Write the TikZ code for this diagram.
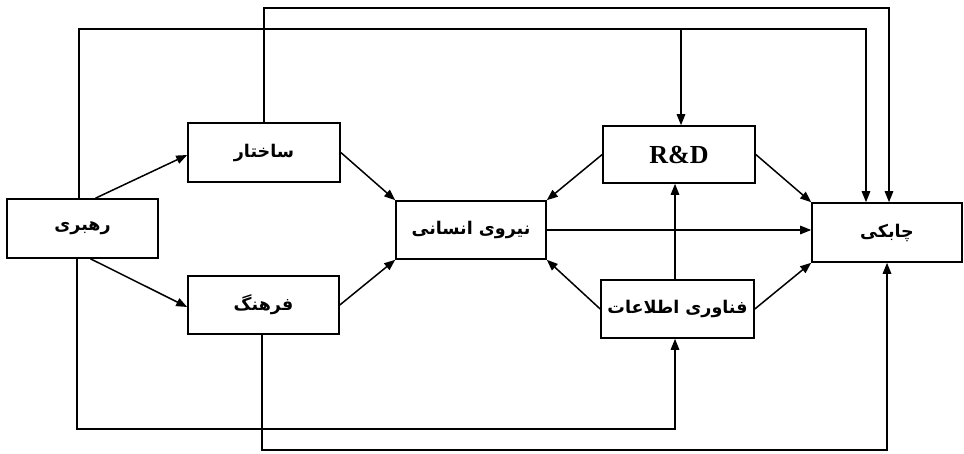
\documentclass[tikz,border=0pt]{standalone}
\usepackage{fontspec}
\setmainfont{Liberation Serif}
\newfontfamily\arabicfont[Script=Arabic]{DejaVu Sans}
\TeXXeTstate=1
\usetikzlibrary{arrows.meta}
\tikzset{
  box/.style={draw, line width=1.6pt, inner sep=0pt, align=center, font=\fontsize{17.5}{21}\selectfont\bfseries},
  conn/.style={line width=1.5pt},
  arr/.style={conn, -{Triangle[length=11pt,width=8.5pt]}}
}
\newcommand{\fa}[1]{{\arabicfont\bfseries\beginR #1\endR}}
\begin{document}
\begin{tikzpicture}[x=1pt,y=-1pt]
\useasboundingbox (0,0) rectangle (964,454);
\node[box, minimum width=151pt, minimum height=59pt] (rahbari) at (82.5,228.5) {\fa{رهبری}};
\node[box, minimum width=152pt, minimum height=59pt] (sakhtar) at (264,152.5) {\fa{ساختار}};
\node[box, minimum width=151pt, minimum height=58pt] (farhang) at (263.5,305) {\fa{فرهنگ}};
\node[box, minimum width=150pt, minimum height=58pt] (niru) at (471,230) {\fa{نیروی انسانی}};
\node[box, minimum width=152pt, minimum height=57pt, font=\fontsize{26}{28}\selectfont\bfseries] (rd) at (679,154.5) {R\&D};
\node[box, minimum width=153pt, minimum height=58pt] (fanavari) at (677.5,309) {\fa{فناوری اطلاعات}};
\node[box, minimum width=150pt, minimum height=59pt] (chaboki) at (887,232.5) {\fa{چابکی}};
\coordinate (t1) at (0,8);
\coordinate (t2) at (0,29);
\coordinate (b1) at (0,429);
\coordinate (b2) at (0,450);
% top feedback lines
\draw[arr] (sakhtar.north) |- ([xshift=2pt]chaboki.north |- t1) -- ([xshift=2pt]chaboki.north);
\draw[arr] ([xshift=-3.5pt]rahbari.north) |- ([xshift=-21pt]chaboki.north |- t2) -- ([xshift=-21pt]chaboki.north);
\draw[arr] ([xshift=2pt]rd.north |- t2) -- ([xshift=2pt]rd.north);
% bottom lines
\draw[arr] ([xshift=-5.5pt]rahbari.south) |- ([xshift=-2.5pt]fanavari.south |- b1) -- ([xshift=-2.5pt]fanavari.south);
\draw[arr] ([xshift=-1.5pt]farhang.south) |- (chaboki.south |- b2) -- (chaboki.south);
% vertical IT -> R&D
\draw[arr] ([xshift=-2.5pt]fanavari.north) -- ([xshift=-2.5pt]fanavari.north |- rd.south);
% horizontal
\draw[arr] (niru.east) -- (niru.east -| chaboki.west);
% diagonals
\draw[arr] ([xshift=13pt]rahbari.north) -- ([yshift=-2.5pt]sakhtar.west);
\draw[arr] ([xshift=8pt]rahbari.south) -- ([yshift=-2pt]farhang.west);
\draw[arr] (sakhtar.east) -- (niru.north west);
\draw[arr] (farhang.east) -- (niru.south west);
\draw[arr] (rd.west) -- (niru.north east);
\draw[arr] (rd.east) -- (chaboki.north west);
\draw[arr] (fanavari.west) -- (niru.south east);
\draw[arr] (fanavari.east) -- (chaboki.south west);
\end{tikzpicture}
\end{document}
